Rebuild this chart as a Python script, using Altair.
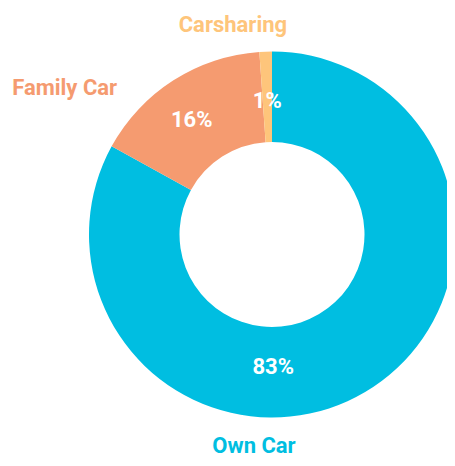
import altair as alt
import pandas as pd

categories = ["Own Car", "Family Car", "Carsharing"]
values = [83.0, 15.9, 1.1]
pct_labels = ["83%", "16%", "1%"]
stack_order = [0, 1, 2]
colors = ["#00BEE1", "#F59B70", "#FEC57B"]

df = pd.DataFrame({
    "category": categories,
    "value": values,
    "pct": pct_labels,
    "order": stack_order,
})

CX, CY = 264, 226.5
FONT = "Roboto"

arc = alt.Chart(df).mark_arc(innerRadius=92.5, outerRadius=183).encode(
    theta=alt.Theta("value:Q", stack=True),
    order=alt.Order("order:Q"),
    color=alt.Color("category:N", scale=alt.Scale(domain=categories, range=colors), legend=None),
    x=alt.value(CX),
    y=alt.value(CY),
)


def label(cat, field, radius, dx, dy, color):
    return (
        alt.Chart(df)
        .transform_stack(stack="value", groupby=[], as_=["v0", "v1"], sort=[alt.SortField("order")])
        .transform_calculate(mid="(datum.v0 + datum.v1) / 2")
        .transform_filter(alt.datum.category == cat)
        .mark_text(radius=radius, dx=dx, dy=dy, font=FONT, fontWeight="bold", fontSize=22,
                   align="center", baseline="middle", color=color)
        .encode(
            theta=alt.Theta("mid:Q"),
            text=alt.Text(f"{field}:N"),
            x=alt.value(CX),
            y=alt.value(CY),
        )
    )


layers = [
    arc,
    label("Own Car", "pct", 138, -69, 14, "white"),
    label("Family Car", "pct", 138, -6, 1.5, "white"),
    label("Carsharing", "pct", 138, 0, 4.5, "white"),
    label("Own Car", "category", 220, -130, 22, colors[0]),
    label("Family Car", "category", 230, -83.5, 47.5, colors[1]),
    label("Carsharing", "category", 205, -32, -5, colors[2]),
]

chart = alt.layer(*layers).properties(
    width=439, height=450, padding=0, autosize="none"
).configure_view(stroke=None)

chart.save("out.html", embed_options={"renderer": "svg", "actions": False})
